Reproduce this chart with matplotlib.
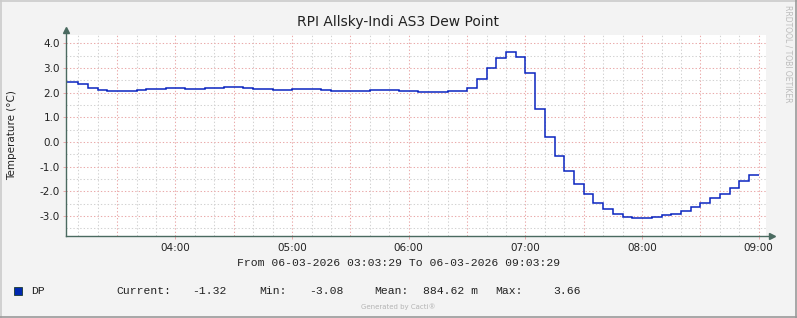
import numpy as np
import matplotlib
matplotlib.use('Agg')
import matplotlib.pyplot as plt
from matplotlib.patches import Rectangle
from matplotlib.lines import Line2D

# ── Theme (rrdtool / cacti look) ─────────────────────────────────────────────
BG_COLOR     = '#f3f3f3'
CANVAS       = '#ffffff'
GRID_MINOR   = '#d2d2d2'
GRID_MAJOR   = '#eaaaaa'
AXIS_COLOR   = '#4a6a60'
LINE_COLOR   = '#0a25c0'
TEXT_COLOR   = '#222222'
SHADE_A      = '#cbcbcb'
SHADE_B      = '#999999'

W, H = 797, 318

# ── Data: dew point, 5-minute samples from 03:00 ─────────────────────────────
start_minute = 0      # minutes after 03:00
step_minutes = 5
dew_point = [
    2.43, 2.43, 2.36, 2.20, 2.12, 2.08, 2.08, 2.08, 2.12, 2.16, 2.16, 2.20,
    2.20, 2.16, 2.16, 2.20, 2.20, 2.24, 2.24, 2.20, 2.16, 2.16, 2.12, 2.12,
    2.16, 2.16, 2.16, 2.12, 2.08, 2.08, 2.08, 2.08, 2.12, 2.12, 2.12, 2.08,
    2.08, 2.04, 2.04, 2.04, 2.08, 2.08, 2.18, 2.55, 3.00, 3.39, 3.66, 3.45,
    2.79, 1.34, 0.20, -0.55, -1.18, -1.69, -2.09, -2.46, -2.72, -2.92, -3.04, -3.08,
    -3.08, -3.04, -2.96, -2.92, -2.78, -2.64, -2.46, -2.27, -2.09, -1.85, -1.58, -1.32,
]

x_tick_minutes = [60, 120, 180, 240, 300, 360]
x_tick_labels  = ['04:00', '05:00', '06:00', '07:00', '08:00', '09:00']
y_ticks        = [-3.0, -2.0, -1.0, 0.0, 1.0, 2.0, 3.0, 4.0]

title_text  = 'RPI Allsky-Indi AS3 Dew Point'
y_label     = 'Temperature (\u00b0C)'
range_text  = 'From 06-03-2026 03:03:29 To 06-03-2026 09:03:29'
legend_name = 'DP'
stat_labels = ['Current:', 'Min:', 'Mean:', 'Max:']
stat_values = ['-1.32', '-3.08', '884.62 m', '3.66']

# view window 03:03:29 .. 09:03:29
x_min = 3 + 29 / 60
x_max = x_min + 360
y_min, y_max = -3.8, 4.34

# ── Figure ───────────────────────────────────────────────────────────────────
fig = plt.figure(figsize=(W / 100, H / 100), dpi=100, facecolor=BG_COLOR)

# outer frame
fig.add_artist(Line2D([0.5 / W, 0.5 / W], [0, 1], color=SHADE_A, lw=1.2, transform=fig.transFigure))
fig.add_artist(Line2D([0, 1], [1 - 0.5 / H, 1 - 0.5 / H], color=SHADE_A, lw=1.2, transform=fig.transFigure))
fig.add_artist(Line2D([1 - 0.7 / W, 1 - 0.7 / W], [0, 1], color=SHADE_B, lw=1.2, transform=fig.transFigure))
fig.add_artist(Line2D([0, 1], [0.7 / H, 0.7 / H], color=SHADE_B, lw=1.2, transform=fig.transFigure))

left_px, right_px, top_px, bottom_px = 65.5, 765.5, 35.0, 235.7
ax = fig.add_axes([left_px / W, 1 - bottom_px / H,
                   (right_px - left_px) / W, (bottom_px - top_px) / H])
ax.set_facecolor(CANVAS)
ax.set_xlim(x_min, x_max)
ax.set_ylim(y_min, y_max)

# grid
dots = (0, (1.3, 2.0))
for m in np.arange(0, 370, 10):
    if x_min < m < x_max:
        c = GRID_MAJOR if m % 30 == 0 else GRID_MINOR
        ax.axvline(m, color=c, lw=0.75, linestyle=dots, zorder=1)
for v in np.arange(-3.5, 4.5, 0.5):
    c = GRID_MAJOR if v == int(v) else GRID_MINOR
    ax.axhline(v, color=c, lw=0.75, linestyle=dots, zorder=1)

# data as steps
edges = start_minute + step_minutes * np.arange(len(dew_point) + 1)
ax.stairs(dew_point, edges, color=LINE_COLOR, lw=1.1, baseline=None, zorder=3)

# ticks
ax.set_xticks(x_tick_minutes)
ax.set_xticklabels(x_tick_labels)
ax.set_yticks(y_ticks)
ax.set_yticklabels([f'{v:.1f}' for v in y_ticks])
ax.tick_params(axis='both', length=2, width=0.7, color=GRID_MAJOR,
               labelsize=7.5, labelcolor=TEXT_COLOR, pad=2)
ax.tick_params(axis='x', pad=3)
for s in ax.spines.values():
    s.set_visible(False)

# axes lines with arrows
ax.add_line(Line2D([0, 0], [0, 1 + 5 / (bottom_px - top_px)], color=AXIS_COLOR, lw=1.0,
                   transform=ax.transAxes, clip_on=False, zorder=4))
ax.add_line(Line2D([0, 1 + 6 / (right_px - left_px)], [0, 0], color=AXIS_COLOR, lw=1.0,
                   transform=ax.transAxes, clip_on=False, zorder=4))
ax.plot([0], [1 + 5 / (bottom_px - top_px)], marker='^', ms=5, color=AXIS_COLOR,
        transform=ax.transAxes, clip_on=False, zorder=5)
ax.plot([1 + 6 / (right_px - left_px)], [0], marker='>', ms=5, color=AXIS_COLOR,
        transform=ax.transAxes, clip_on=False, zorder=5)

ax.set_ylabel(y_label, fontsize=7.5, color=TEXT_COLOR, labelpad=16)

# texts
def fx(px):
    return px / W

def fy(py):
    return 1 - py / H

MONO = dict(fontsize=8.2, color=TEXT_COLOR, family='Liberation Mono', va='center')

fig.text(fx(398), fy(22), title_text, fontsize=10, color=TEXT_COLOR,
         ha='center', va='center', family='DejaVu Sans')
fig.text(fx(398.5), fy(263), range_text, ha='center', **MONO)

fig.add_artist(Rectangle((fx(14), fy(295)), 8 / W, 8 / H, facecolor='#0028b0',
                         edgecolor='#1a3a30', lw=0.6, transform=fig.transFigure))
fig.text(fx(30.8), fy(291), legend_name, ha='left', **MONO)
label_x = [116.5, 259, 374, 495]
value_x = [192, 309, 423, 553]
for lab, val, lx, vx in zip(stat_labels, stat_values, label_x, value_x):
    fig.text(fx(lx), fy(291), lab, ha='left', **MONO)
    fig.text(fx(vx), fy(291), val, ha='left', **MONO)

fig.text(fx(398), fy(307), 'Generated by Cacti\u00ae', fontsize=5, color='#b4b4b4',
         ha='center', va='center')
fig.text(fx(788), fy(5), 'RRDTOOL / TOBI OETIKER', fontsize=5.5, color='#bcbcbc',
         ha='center', va='top', rotation=270)

fig.savefig('out.png', dpi=100, facecolor=BG_COLOR)
